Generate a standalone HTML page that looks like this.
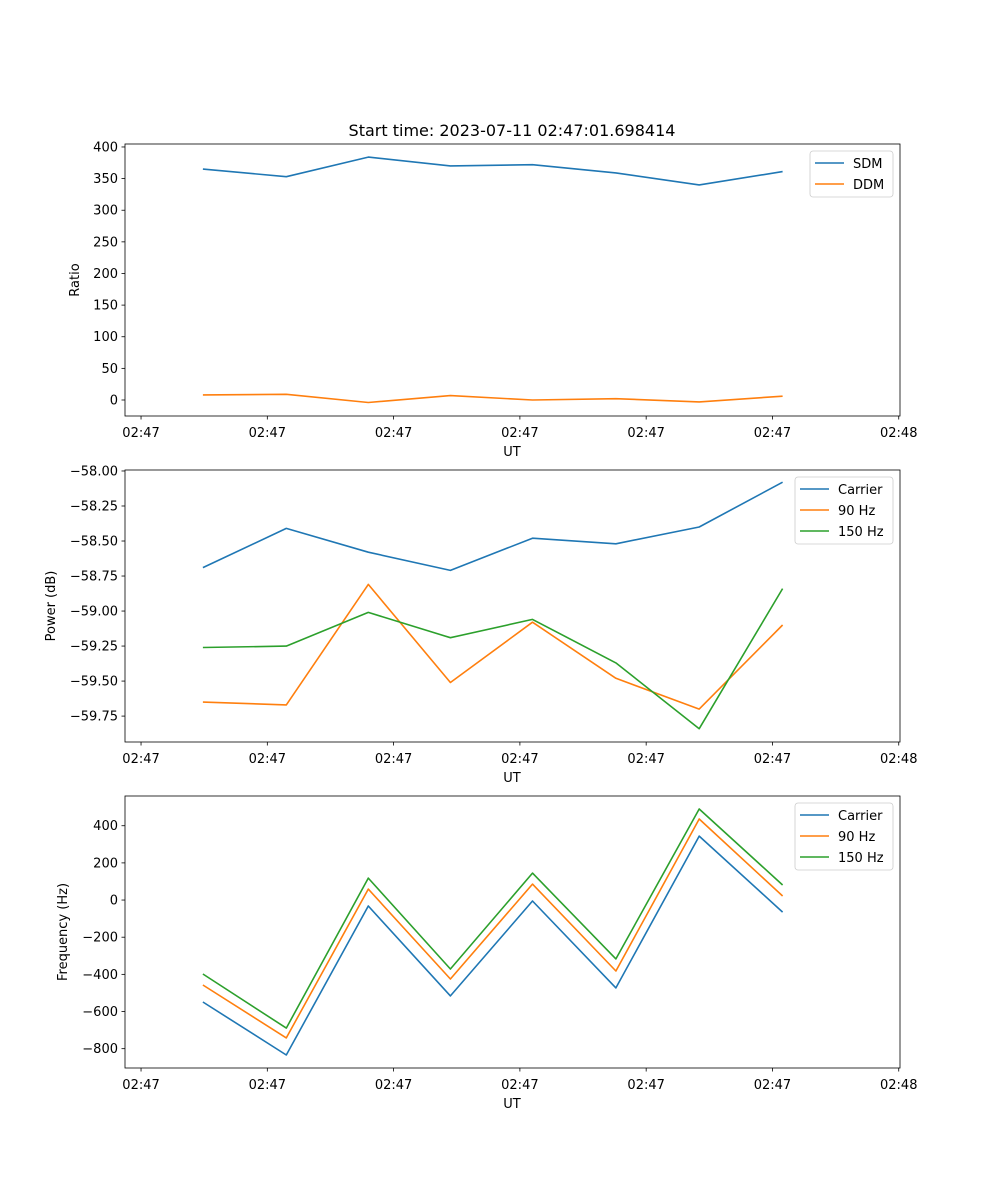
<!DOCTYPE html>
<html><head><meta charset="utf-8"><style>
body{margin:0;background:#fff}
svg{display:block;font-family:"DejaVu Sans","Liberation Sans",sans-serif}
</style></head><body>
<svg id="fig" width="1000" height="1200" xmlns="http://www.w3.org/2000/svg">
<text x="512" y="136" font-size="16" text-anchor="middle">Start time: 2023-07-11 02:47:01.698414</text>
</svg>
<script>
const times = [4.9, 11.5, 18.0, 24.5, 31.0, 37.6, 44.2, 50.8];
const xTickValues = [0, 10, 20, 30, 40, 50, 60];
const xTickLabels = ["02:47","02:47","02:47","02:47","02:47","02:47","02:48"];
const sdm = [365, 353, 384, 370, 372, 359, 340, 361];
const ddm = [8, 9, -4, 7, 0, 2, -3, 6];
const powCarrier = [-58.69, -58.41, -58.58, -58.71, -58.48, -58.52, -58.40, -58.08];
const pow90 = [-59.65, -59.67, -58.81, -59.51, -59.08, -59.48, -59.70, -59.10];
const pow150 = [-59.26, -59.25, -59.01, -59.19, -59.06, -59.37, -59.84, -58.84];
const freqCarrier = [-549, -834, -32, -516, -5, -473, 344, -65];
const freq90 = [-457, -742, 59, -425, 86, -382, 436, 22];
const freq150 = [-398, -689, 118, -371, 145, -317, 490, 81];
const ticks1 = [0, 50, 100, 150, 200, 250, 300, 350, 400];
const ticks2 = [-59.75, -59.50, -59.25, -59.00, -58.75, -58.50, -58.25, -58.00];
const ticks3 = [-800, -600, -400, -200, 0, 200, 400];

const NS = "http://www.w3.org/2000/svg";
const svg = document.getElementById('fig');
const L = 125, R = 900, H = 272;
const xMin = -1.27, xMax = 60.1;
const xs = t => L + (t - xMin) / (xMax - xMin) * (R - L);
function el(tag, attrs, parent) {
  const e = document.createElementNS(NS, tag);
  for (const k in attrs) e.setAttribute(k, attrs[k]);
  (parent || svg).appendChild(e);
  return e;
}
function panel(id, top, yMin, yMax, ticks, fmt, ylabel, series, legend) {
  const g = el('g', {});
  
  
  const ys = v => top + H - (v - yMin) / (yMax - yMin) * H;
  ticks.forEach(v => {
    const y = ys(v);
    const tl = el('line', {x1: L - 3.5, x2: L, y1: y, y2: y, stroke: '#000', 'stroke-width': 0.8}, g);
    
    
    const t = el('text', {x: L - 7, y: y + 4.5, 'font-size': 13, 'text-anchor': 'end'}, g);
    t.textContent = fmt(v).replace('-', '\u2212');
    
    
  });
  xTickValues.forEach((v, i) => {
    const x = xs(v);
    const tl = el('line', {x1: x, x2: x, y1: top + H, y2: top + H + 3.5, stroke: '#000', 'stroke-width': 0.8}, g);
    
    
    const t = el('text', {x: x, y: top + H + 21, 'font-size': 13, 'text-anchor': 'middle'}, g);
    t.textContent = xTickLabels[i];
    
    
  });
  const xl = el('text', {x: 512, y: top + H + 40, 'font-size': 13, 'text-anchor': 'middle'}, g);
  xl.textContent = 'UT';
  
  
  const yl = el('text', {x: 0, y: 0, 'font-size': 13, 'text-anchor': 'middle', transform: `translate(${ylabel[1]},${top + H / 2}) rotate(-90)`}, g);
  yl.textContent = ylabel[0];
  
  
  series.forEach(s => {
    const d = s.vals.map((v, i) => (i ? 'L' : 'M') + xs(times[i]).toFixed(1) + ',' + ys(v).toFixed(1)).join('');
    const p = el('path', {d: d, fill: 'none', stroke: s.color, 'stroke-width': 1.6, 'stroke-linejoin': 'round'}, g);
    
    
  });
  const fr = el('rect', {x: L, y: top, width: R - L, height: H, fill: 'none', stroke: '#000', 'stroke-width': 0.8}, g);
  
  
  const lg = el('g', {}, g);
  
  
  const lb = el('rect', {x: legend[0], y: top + 7, width: 893 - legend[0], height: 4 + series.length * 21, rx: 3, fill: '#fff', 'fill-opacity': 0.8, stroke: '#ccc', 'stroke-width': 0.8}, lg);
  
  
  series.forEach((s, i) => {
    const y = top + 19 + i * 21;
    const ln = el('line', {x1: legend[0] + 5, x2: legend[0] + 34, y1: y, y2: y, stroke: s.color, 'stroke-width': 1.5}, lg);
    
    
    const t = el('text', {x: legend[0] + 43, y: y + 5, 'font-size': 13}, lg);
    t.textContent = s.label;
    
    
  });
}
const C = ['#1f77b4', '#ff7f0e', '#2ca02c'];
panel('ratio', 144, -25.3, 404.7, ticks1, v => String(v), ['Ratio', 79],
  [{key: 'sdm', label: 'SDM', vals: sdm, color: C[0]}, {key: 'ddm', label: 'DDM', vals: ddm, color: C[1]}], [810]);
panel('power', 470, -59.935, -57.993, ticks2, v => v.toFixed(2), ['Power (dB)', 55],
  [{key: 'carrier', label: 'Carrier', vals: powCarrier, color: C[0]}, {key: '90hz', label: '90 Hz', vals: pow90, color: C[1]}, {key: '150hz', label: '150 Hz', vals: pow150, color: C[2]}], [795]);
panel('frequency', 796, -904, 560, ticks3, v => String(v), ['Frequency (Hz)', 67],
  [{key: 'carrier', label: 'Carrier', vals: freqCarrier, color: C[0]}, {key: '90hz', label: '90 Hz', vals: freq90, color: C[1]}, {key: '150hz', label: '150 Hz', vals: freq150, color: C[2]}], [795]);
</script>
</body></html>
